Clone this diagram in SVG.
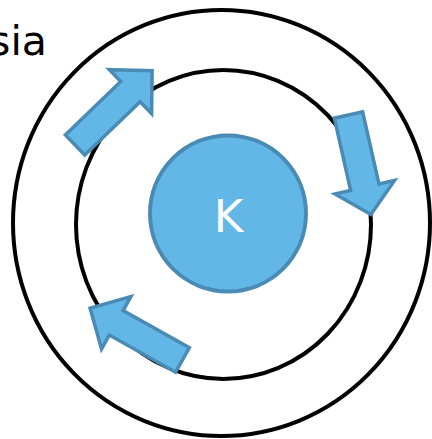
<svg xmlns="http://www.w3.org/2000/svg" width="432" height="439" viewBox="0 0 432 439">
<style>
.ring{fill:none;stroke:#000;stroke-width:4}
.blue{fill:#62B7E7;stroke:#4A8BB5;stroke-width:4;stroke-linejoin:miter}
.arrow{fill:#62B7E7;stroke:#4A8BB5;stroke-width:3.5;stroke-linejoin:miter}
.lbl{font-family:"DejaVu Sans",Verdana,sans-serif}
</style>
<rect width="432" height="439" fill="#fff"/>
<text class="lbl" x="47" y="55" font-size="41" text-anchor="end" fill="#000">sia</text>
<g id="outer"><ellipse class="ring" cx="221.5" cy="223" rx="208.5" ry="213"/></g>
<g id="inner"><ellipse class="ring" cx="223.5" cy="224.5" rx="147.5" ry="154.5"/></g>
<g id="K"><circle class="blue" cx="228" cy="213.5" r="78"/>
<text class="lbl" x="228.5" y="232" font-size="45" text-anchor="middle" fill="#fff">K</text></g>
<g id="connectors">
<path class="arrow" transform="translate(75,145) rotate(-43.9)" d="M0,-14 L77,-14 L77,-30.5 L107,0 L77,30.5 L77,14 L0,14 Z"/>
<path class="arrow" transform="translate(348.5,115) rotate(77.3)" d="M0,-14.5 L74,-14.5 L74,-30.5 L102,0 L74,30.5 L74,14.5 L0,14.5 Z"/>
<path class="arrow" transform="translate(182.5,360) rotate(-150.7)" d="M0,-14 L76,-14 L76,-30 L106,0 L76,30 L76,14 L0,14 Z"/>
</g>
</svg>
